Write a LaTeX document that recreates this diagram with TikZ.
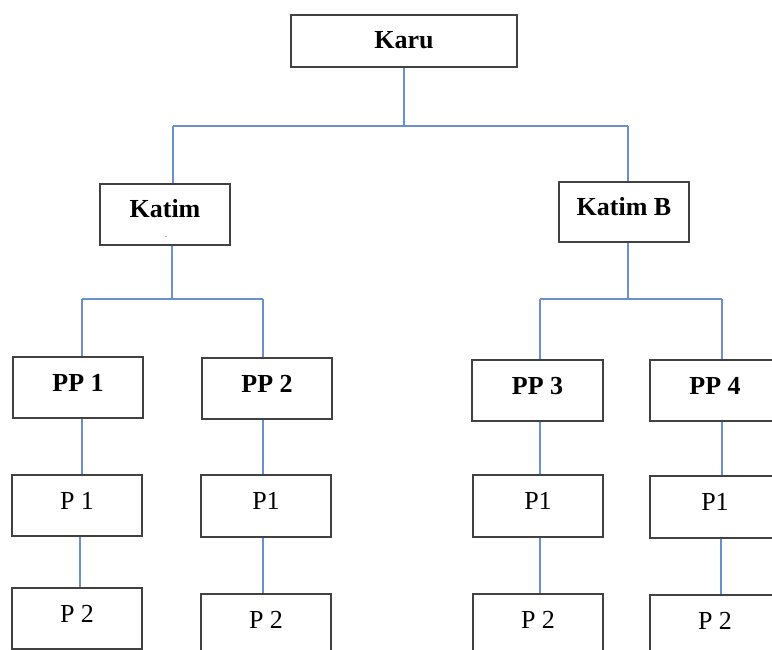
\documentclass[tikz,border=0pt]{standalone}
\usepackage{fontspec}
\setmainfont{Liberation Serif}
\definecolor{linkblue}{RGB}{105,145,205}
\definecolor{boxgray}{RGB}{65,65,65}
\begin{document}
\begin{tikzpicture}[x=1pt,y=-1pt,
  box/.style={draw=boxgray,line width=1.5pt,fill=white,minimum width=130pt,minimum height=61pt,
    inner sep=0pt,text height=17pt,text depth=10pt,font=\fontsize{26}{26}\selectfont},
  boldbox/.style={box,font=\fontsize{26}{26}\selectfont\bfseries},
  conn/.style={draw=linkblue,line width=1.8pt},
  topconn/.style={draw=linkblue,line width=2.6pt}]
\useasboundingbox (0,0) rectangle (772,650);
\clip (0,0) rectangle (772,650);

% nodes
\node[boldbox,minimum width=226pt,minimum height=52pt,text depth=2pt] (karu) at (404,41) {Karu};
\node[boldbox] (katim) at (165,214.5) {Katim};
\node[font=\fontsize{8}{8}\selectfont,inner sep=0pt,anchor=base] (katimdot) at (166,237) {.};
\node[boldbox,minimum height=60pt] (katimb) at (624,212) {Katim B};

\node[boldbox] (pp1) at (78,387.5) {PP 1};
\node[boldbox] (pp2) at (267,388.5) {PP 2};
\node[boldbox,minimum width=131pt] (pp3) at (537.5,390.5) {PP 3};
\node[boldbox] (pp4) at (715,390.5) {PP 4};

\node[box] (p1a) at (77,505.5) {P 1};
\node[box,minimum height=62pt] (p1b) at (266,506) {P1};
\node[box,minimum height=62pt] (p1c) at (538,506) {P1};
\node[box,minimum height=62pt] (p1d) at (715,507) {P1};

\node[box] (p2a) at (77,618.5) {P 2};
\node[box] (p2b) at (266,624.5) {P 2};
\node[box] (p2c) at (538,624.5) {P 2};
\node[box] (p2d) at (715,625.5) {P 2};

% junction coordinates
\coordinate (j0) at (404,126);
\coordinate (jl) at (173,126);
\coordinate (jr) at (628,126);
\coordinate (ka) at (172,299);
\coordinate (kal) at (82,299);
\coordinate (kar) at (263,299);
\coordinate (kb) at (628,299);
\coordinate (kbl) at (540,299);
\coordinate (kbr) at (722,299);
\coordinate (xa) at (80,0);
\coordinate (xb) at (263,0);
\coordinate (xc) at (540,0);
\coordinate (xd) at (721,0);

% connectors
\draw[conn] (karu.south) -- (j0);
\draw[topconn] (jl) -- (jr);
\draw[conn] (jl) -- (katim.north -| jl);
\draw[conn] (jr) -- (katimb.north -| jr);

\draw[conn] (katim.south -| ka) -- (ka);
\draw[conn] (kal) -- (kar);
\draw[conn] (kal) -- (pp1.north -| kal);
\draw[conn] (kar) -- (pp2.north -| kar);

\draw[conn] (katimb.south -| kb) -- (kb);
\draw[conn] (kbl) -- (kbr);
\draw[conn] (kbl) -- (pp3.north -| kbl);
\draw[conn] (kbr) -- (pp4.north -| kbr);

\draw[conn] (pp1.south -| kal) -- (p1a.north -| kal);
\draw[conn] (pp2.south -| xb) -- (p1b.north -| xb);
\draw[conn] (pp3.south -| xc) -- (p1c.north -| xc);
\draw[conn] (pp4.south -| kbr) -- (p1d.north -| kbr);

\draw[conn] (p1a.south -| xa) -- (p2a.north -| xa);
\draw[conn] (p1b.south -| xb) -- (p2b.north -| xb);
\draw[conn] (p1c.south -| xc) -- (p2c.north -| xc);
\draw[conn] (p1d.south -| xd) -- (p2d.north -| xd);
\end{tikzpicture}
\end{document}
